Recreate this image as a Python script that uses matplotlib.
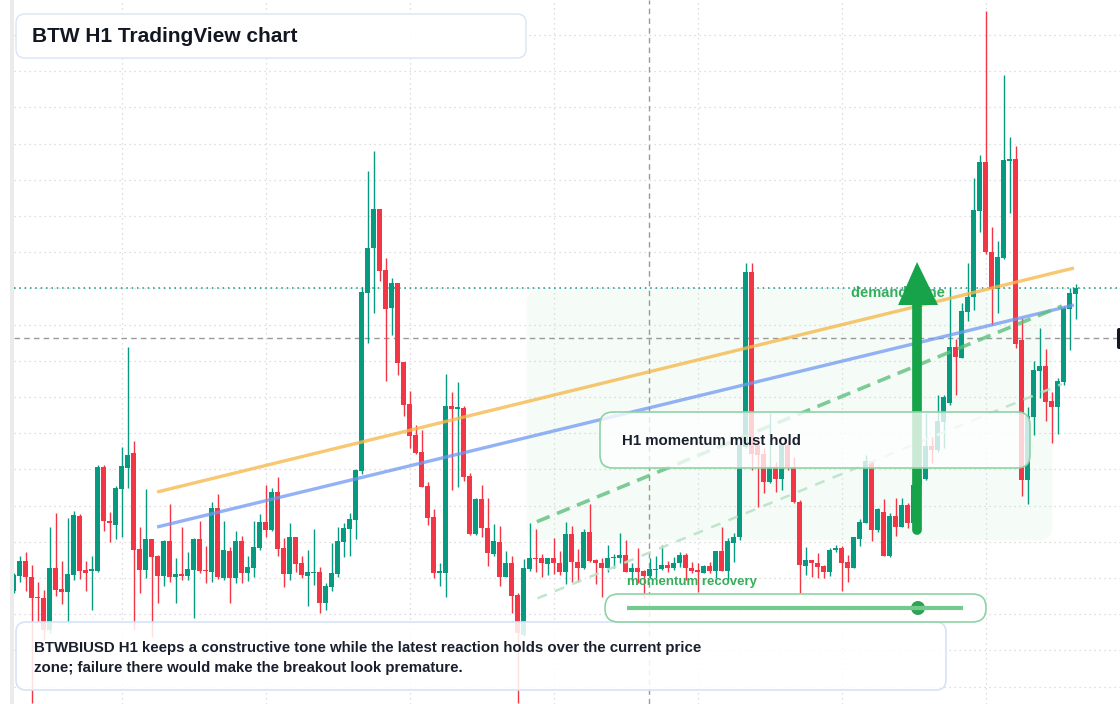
import numpy as np
import matplotlib
matplotlib.use("Agg")
import matplotlib.pyplot as plt
from matplotlib.patches import FancyBboxPatch, Polygon, Circle, Rectangle

# ---------------- data (H1 candles, arbitrary price units) ----------------
opens = [11.3, 12.83, 14.3, 12.67, 10.73, 10.63, 7.4, 13.63, 11.5, 11.23,
         12.9, 18.83, 13.4, 13.35, 13.33, 23.73, 18.33, 17.9, 21.5, 23.63,
         25.07, 15.5, 13.4, 16.5, 14.8, 12.83, 16.33, 12.67, 12.97, 12.8,
         13.4, 16.5, 13.43, 13.23, 19.6, 12.57, 15.3, 12.63, 16.3, 13.13,
         13.63, 15.57, 18.17, 17.4, 21.17, 15.57, 13.0, 16.67, 14.07, 12.8,
         13.1, 13.17, 10.07, 11.73, 13.0, 16.23, 17.5, 18.4, 23.33, 41.13,
         45.63, 49.5, 43.4, 39.63, 42.07, 34.17, 30.0, 26.9, 25.23, 21.8,
         18.73, 13.15, 13.13, 29.8, 29.47, 29.63, 22.8, 17.0, 20.47, 17.63,
         15.0, 16.23, 12.73, 14.07, 10.9, 6.9, 13.47, 14.57, 14.57, 14.0,
         14.57, 14.07, 13.17, 17.0, 14.17, 13.63, 17.23, 14.4, 14.07, 13.63,
         14.57, 14.57, 14.9, 13.23, 13.57, 13.33, 12.83, 13.43, 13.47, 13.9,
         13.63, 14.07, 14.9, 13.57, 13.4, 13.13, 13.8, 13.33, 15.3, 13.33,
         16.13, 16.67, 25.7, 43.23, 25.9, 25.0, 22.17, 23.7, 22.5, 25.9,
         23.7, 20.17, 13.83, 14.4, 14.07, 13.8, 13.23, 15.4, 15.63, 14.17,
         13.63, 16.53, 18.13, 24.3, 17.4, 19.2, 14.83, 18.83, 17.73, 19.9,
         18.07, 21.9, 22.5, 25.8, 25.4, 28.23, 30.07, 35.73, 34.63, 39.23,
         40.73, 49.33, 54.17, 45.17, 41.47, 44.63, 54.33, 54.5, 36.4, 22.4,
         28.73, 33.33, 33.8, 30.3, 29.73, 32.23, 39.5, 41.0]
highs = [13.1, 14.8, 15.23, 13.9, 12.2, 11.4, 17.73, 19.13, 14.3, 18.63,
         19.3, 18.97, 14.33, 14.8, 23.9, 23.9, 19.23, 21.83, 25.73, 35.73,
         26.3, 17.73, 21.5, 16.5, 14.9, 16.4, 20.0, 14.57, 17.7, 15.23,
         16.63, 18.3, 15.8, 20.2, 21.0, 18.3, 15.7, 17.3, 16.8, 14.8,
         18.3, 19.0, 21.9, 21.57, 22.73, 16.57, 18.1, 16.7, 14.8, 15.4,
         17.47, 13.67, 12.07, 16.07, 17.67, 18.13, 19.07, 23.5, 41.73, 53.3,
         55.3, 49.5, 44.63, 42.63, 42.1, 34.2, 31.33, 27.9, 27.4, 22.23,
         19.5, 14.13, 33.0, 31.23, 32.17, 29.8, 23.13, 20.63, 21.9, 20.57,
         17.97, 17.8, 15.3, 14.8, 11.1, 14.5, 18.07, 17.47, 15.0, 14.6,
         16.57, 15.3, 18.17, 17.8, 15.5, 17.5, 20.0, 14.5, 14.57, 15.9,
         15.0, 17.13, 16.4, 14.13, 15.57, 13.4, 14.63, 14.8, 15.9, 14.33,
         14.73, 15.23, 15.1, 14.23, 14.07, 13.9, 14.23, 15.3, 17.73, 16.57,
         17.13, 26.4, 44.07, 44.07, 26.1, 25.6, 29.1, 24.23, 25.9, 26.4,
         24.67, 20.4, 15.73, 14.4, 15.07, 13.9, 15.57, 15.9, 15.8, 14.9,
         16.7, 18.47, 24.9, 24.3, 19.63, 20.5, 19.07, 20.57, 20.57, 20.07,
         22.1, 23.4, 29.1, 26.7, 30.9, 30.9, 41.57, 36.47, 40.07, 44.07,
         52.57, 54.9, 69.3, 47.67, 46.3, 62.9, 56.73, 55.83, 38.57, 29.73,
         34.3, 37.57, 35.47, 31.17, 32.57, 39.8, 41.57, 42.0]
lows = [11.1, 12.23, 11.3, 0.1, 8.2, 6.4, 7.1, 10.83, 10.0, 8.1,
        12.4, 12.47, 11.3, 9.4, 13.2, 17.3, 16.23, 16.5, 16.73, 21.6,
        7.4, 11.07, 12.57, 6.73, 10.13, 11.83, 12.17, 10.07, 12.4, 12.4,
        8.57, 13.07, 12.07, 12.23, 12.5, 12.4, 10.13, 12.07, 12.07, 12.33,
        12.67, 15.4, 16.73, 17.3, 14.8, 11.73, 12.4, 13.23, 12.57, 9.8,
        11.9, 9.13, 9.4, 11.33, 12.73, 14.73, 14.8, 16.47, 22.97, 36.07,
        39.07, 42.33, 32.33, 36.9, 32.9, 28.83, 25.63, 25.0, 21.7, 17.9,
        12.57, 11.83, 10.73, 21.4, 21.73, 22.33, 16.9, 16.95, 16.67, 13.83,
        14.8, 11.83, 12.7, 9.07, 0.1, 6.8, 13.3, 13.17, 12.67, 12.9,
        13.0, 12.9, 11.97, 12.17, 12.17, 13.47, 14.17, 12.0, 10.67, 13.17,
        13.63, 14.07, 13.17, 12.33, 12.07, 10.57, 12.6, 12.57, 13.4, 13.17,
        13.4, 13.7, 12.4, 13.07, 11.23, 13.07, 13.1, 12.57, 13.3, 12.4,
        14.23, 16.4, 25.6, 23.4, 19.73, 21.13, 22.07, 21.23, 21.4, 23.4,
        20.1, 11.07, 12.9, 12.73, 12.57, 12.57, 12.8, 15.2, 11.33, 12.23,
        13.6, 15.83, 18.1, 16.33, 17.2, 14.8, 14.73, 16.8, 17.7, 17.6,
        17.9, 20.8, 22.4, 24.1, 25.2, 25.6, 29.9, 30.9, 34.6, 38.33,
        39.4, 47.17, 45.0, 37.9, 39.07, 44.5, 49.07, 35.63, 20.83, 20.0,
        26.9, 30.63, 28.3, 26.13, 27.0, 31.9, 35.4, 38.5]
closes = [12.9, 14.3, 12.67, 10.63, 10.63, 7.4, 13.63, 11.4, 11.23, 13.0,
          18.9, 13.33, 13.13, 13.4, 23.73, 18.33, 18.13, 21.63, 23.8, 24.9,
          15.4, 13.4, 16.5, 14.73, 12.83, 16.33, 12.67, 13.0, 12.8, 13.5,
          16.5, 13.33, 13.33, 19.6, 12.67, 15.4, 12.63, 16.3, 13.13, 13.67,
          15.67, 18.17, 17.4, 21.17, 15.5, 13.0, 16.67, 14.0, 12.9, 13.17,
          13.17, 10.13, 11.8, 13.07, 16.3, 17.6, 18.5, 23.4, 41.17, 45.57,
          49.5, 43.33, 39.53, 42.07, 34.13, 29.9, 26.83, 25.13, 21.73, 18.63,
          13.13, 13.2, 29.8, 29.47, 29.67, 22.73, 17.0, 20.47, 17.57, 15.07,
          16.3, 12.73, 14.07, 10.83, 7.13, 13.6, 14.57, 14.47, 14.07, 14.57,
          14.07, 13.17, 17.0, 14.17, 13.63, 17.23, 14.33, 14.07, 13.63, 14.57,
          14.73, 14.9, 13.23, 13.57, 13.23, 12.83, 13.47, 13.5, 13.9, 13.63,
          14.07, 14.9, 13.57, 13.33, 13.17, 13.8, 13.33, 15.3, 13.33, 16.3,
          16.67, 25.9, 43.23, 25.0, 24.9, 22.17, 23.7, 22.5, 25.9, 23.7,
          20.17, 13.9, 14.4, 14.07, 13.73, 13.23, 15.4, 15.63, 14.13, 13.63,
          16.67, 18.23, 24.3, 17.4, 19.47, 14.83, 18.83, 17.73, 19.9, 18.13,
          21.9, 22.5, 25.8, 25.4, 28.3, 30.73, 35.73, 34.73, 39.3, 40.73,
          49.4, 54.17, 45.17, 41.47, 44.67, 54.4, 54.47, 35.97, 22.4, 28.8,
          33.4, 33.8, 30.23, 29.73, 32.3, 39.63, 41.07, 41.57]

# annotation levels (price units) and candle-index anchors
resistance_line = ([23.9, 176.7], [21.2, 43.6])     # orange
trend_line = ([23.9, 176.7], [17.7, 39.9])          # blue
momentum_line = ([87.2, 174.7], [18.23, 39.8])      # green dashed
lower_channel = ([87.3, 174.7], [10.57, 32.0])      # faint green dashed
demand_zone = (85.5, 173.1, 16.4, 41.4)             # x0, x1, y0, y1
cross_x, cross_y = 105.9, 36.6
arrow_x, arrow_y0, arrow_y1 = 150.55, 17.4, 44.2

title = "BTW H1 TradingView chart"
note_lines = ["BTWBIUSD H1 keeps a constructive tone while the latest reaction holds over the current price",
              "zone; failure there would make the breakout look premature."]
box_label = "H1 momentum must hold"
slider_label = "momentum recovery"
zone_label = "demand zone"

# ---------------- figure ----------------
W, H = 1120, 704
fig = plt.figure(figsize=(W / 100, H / 100), dpi=100)
fig.patch.set_facecolor("white")

ax = fig.add_axes([14 / W, 0, 1 - 14 / W, 1])
ax.set_facecolor("white")
for s in ax.spines.values():
    s.set_visible(False)
ax.set_xticks(18 + 24 * np.arange(7))
ax.set_yticks(66.9 - 3.62 * np.arange(19))
ax.tick_params(length=0, labelbottom=False, labelleft=False)
ax.grid(True, color="#d4d4d4", linestyle=(0, (1, 3)), linewidth=0.9)
ax.set_axisbelow(True)
ax.set_xlim(0.05, 184.38)
ax.set_ylim(0, 70.4)

GREEN, RED = "#089981", "#f23645"
o = np.array(opens); h = np.array(highs); l = np.array(lows); c = np.array(closes)
idx = np.arange(len(o))
cols = np.where(c >= o, GREEN, RED)

# demand zone (behind candles)
zx0, zx1, zy0, zy1 = demand_zone
zone = FancyBboxPatch((zx0, zy0), zx1 - zx0, zy1 - zy0,
                      boxstyle="round,pad=0,rounding_size=2.2", mutation_aspect=0.6,
                      facecolor="#f5fbf6", edgecolor="none", zorder=0.5)
ax.add_patch(zone)

ax.vlines(idx, l, h, colors=cols, linewidth=1.0, zorder=2)
body_low = np.minimum(o, c)
body_h = np.maximum(np.abs(c - o), 0.12)
ax.bar(idx, body_h, bottom=body_low, width=0.78, color=cols, linewidth=0, zorder=3)

# crosshair & last-price line
ax.axvline(cross_x, color="#9a9a9a", linewidth=1.0, linestyle=(0, (4, 3)), zorder=1.5)
ax.axhline(cross_y, color="#9a9a9a", linewidth=1.0, linestyle=(0, (4, 3)), zorder=1.5)
ax.axhline(closes[-1], color=GREEN, linewidth=1.1, linestyle=(0, (1, 2.5)), zorder=1.6)

# trend lines
ax.plot(*resistance_line, color="#f5b94e", alpha=0.8, linewidth=2.4, solid_capstyle="butt", zorder=4)
ax.plot(*trend_line, color="#6f98f2", alpha=0.75, linewidth=2.4, solid_capstyle="butt", zorder=4)
ax.plot(*momentum_line, color="#5cbf7c", alpha=0.8, linewidth=2.6, dashes=(3.8, 2.2), zorder=4)
ax.plot(*lower_channel, color="#b9e3c6", alpha=0.9, linewidth=1.8, dashes=(4, 3.5), zorder=4)

# zone label and arrow
ax.text(139.5, 41.1, zone_label, color="#35ad5c", fontsize=10.5, fontweight="bold",
        family="Liberation Sans", ha="left", va="center", zorder=5)
ax.plot([arrow_x, arrow_x], [arrow_y0, arrow_y1 - 4.0], color="#17a34a", linewidth=7,
        solid_capstyle="round", zorder=6)
ax.add_patch(Polygon([[147.4, arrow_y1 - 4.3], [154.05, arrow_y1 - 4.3], [arrow_x, arrow_y1]],
                     closed=True, facecolor="#17a34a", edgecolor="none", zorder=6))

# ---------------- overlay (pixel layout) ----------------
ov = fig.add_axes([0, 0, 1, 1])
ov.set_xlim(0, W)
ov.set_ylim(H, 0)
ov.axis("off")
ov.patch.set_alpha(0)

ov.add_patch(Rectangle((10, 0), 4, H, facecolor="#ebebeb", edgecolor="none"))

def rbox(x0, y0, x1, y1, r, ec, fc="white", alpha=0.86, lw=1.0):
    p = FancyBboxPatch((x0 + r, y0 + r), (x1 - x0) - 2 * r, (y1 - y0) - 2 * r,
                       boxstyle=f"round,pad={r}", facecolor=fc, edgecolor="none", alpha=alpha)
    ov.add_patch(p)
    q = FancyBboxPatch((x0 + r, y0 + r), (x1 - x0) - 2 * r, (y1 - y0) - 2 * r,
                       boxstyle=f"round,pad={r}", facecolor="none", edgecolor=ec, linewidth=lw)
    ov.add_patch(q)

# title
rbox(16, 14, 526, 58, 9, "#d9e5f6", alpha=0.95)
ov.text(32, 36.5, title, fontsize=15, fontweight="bold", color="#131722",
        family="Liberation Sans", ha="left", va="center")

# bottom note
rbox(16, 622, 946, 690, 10, "#d6e3f6", alpha=0.86, lw=1.2)
ov.text(34, 648, note_lines[0], fontsize=10.8, fontweight="bold", color="#1a1f2e",
        family="Liberation Sans", ha="left", va="center")
ov.text(34, 668, note_lines[1], fontsize=10.8, fontweight="bold", color="#1a1f2e",
        family="Liberation Sans", ha="left", va="center")

# momentum box
rbox(600, 412, 1030, 468, 13, "#8fd3a5", alpha=0.78, lw=1.2)
ov.text(622, 441, box_label, fontsize=10.8, fontweight="bold", color="#1a1f2e",
        family="Liberation Sans", ha="left", va="center")

# slider
rbox(605, 594, 986, 622, 13.5, "#8fd3a5", alpha=0.86, lw=1.2)
ov.plot([627, 963], [608, 608], color="#74c98f", linewidth=3, solid_capstyle="butt")
ov.add_patch(Circle((918, 608), 7, facecolor="#2ea453", edgecolor="none"))
ov.text(627, 582.5, slider_label, fontsize=9.5, fontweight="bold", color="#35ad5c",
        family="Liberation Sans", ha="left", va="center")

# right price label (clipped)
ov.add_patch(FancyBboxPatch((1119, 330), 20, 17, boxstyle="round,pad=2",
                            facecolor="#131722", edgecolor="none"))

fig.savefig("out.png", dpi=100, facecolor="white")
